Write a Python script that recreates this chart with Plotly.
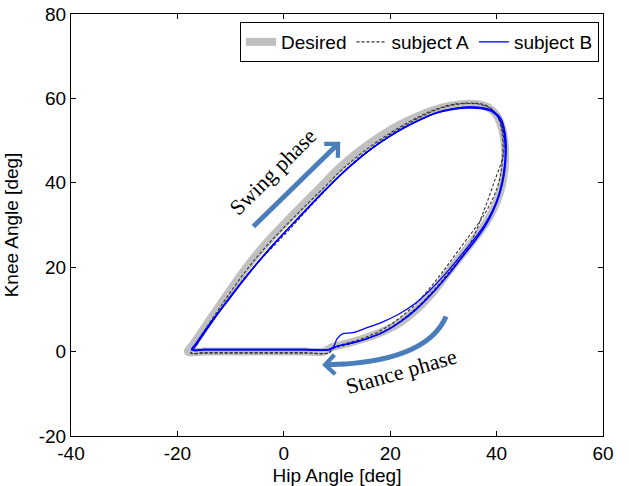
import plotly.graph_objects as go

# ---------------- data ----------------
desired_hip = [-18.0, -17.0, -15.5, -13.5, -11.0, -8.0, -5.0, -2.0, 1.0, 4.0, 7.0, 10.0, 13.0, 16.0, 19.0, 22.0, 25.0, 28.0, 31.0, 34.0, 36.5, 38.5, 40.0, 41.0, 41.5, 41.6, 41.3, 40.6, 39.5, 38.0, 36.0, 33.5, 31.0, 28.0, 25.0, 22.0, 19.0, 16.0, 13.0, 10.5, 9.0, 7.5, 4.0, 0.0, -5.0, -10.0, -15.0, -18.0]
desired_knee = [0.0, 1.8, 4.6, 8.3, 12.9, 18.3, 23.2, 27.5, 31.5, 35.3, 39.1, 43.0, 46.3, 49.2, 51.7, 53.9, 55.7, 57.2, 58.2, 58.7, 58.6, 57.8, 56.0, 53.0, 49.5, 45.5, 41.5, 37.5, 34.0, 30.5, 27.0, 23.0, 19.0, 14.0, 10.0, 7.0, 5.0, 3.5, 2.3, 1.5, 1.0, 0.0, 0.0, 0.0, 0.0, 0.0, 0.0, 0.0]

# subject A, two cycles
A1_hip = [-17.5, -16.5, -15.0, -13.0, -10.5, -7.5, -4.5, -1.5, 1.5, 4.5, 7.5, 10.5, 13.5, 16.5, 19.5, 22.5, 25.5, 28.5, 31.5, 34.5, 37.0, 39.0, 40.3, 41.0, 41.2, 41.0, 40.4, 39.3, 37.8, 35.8, 33.3, 30.8, 27.8, 24.8, 21.8, 18.8, 15.8, 12.8, 10.3, 9.0, 8.5, 4.0, 0.0, -5.0, -10.0, -15.0, -17.5]
A1_knee = [-0.3, 1.9, 4.8, 8.6, 13.2, 18.5, 23.2, 27.4, 31.3, 35.1, 38.8, 42.6, 45.9, 48.8, 51.4, 53.7, 55.7, 57.4, 58.5, 58.9, 58.7, 57.6, 55.3, 52.0, 48.0, 44.0, 40.0, 36.3, 32.7, 29.0, 24.8, 20.5, 15.6, 11.3, 8.0, 5.4, 3.6, 2.3, 1.4, 0.6, -0.3, -0.3, -0.3, -0.3, -0.3, -0.3, -0.3]
A2_hip = [-17.5, -16.3, -14.8, -12.8, -10.3, -7.3, -4.3, -1.3, 1.7, 4.7, 7.7, 10.7, 13.7, 16.7, 19.7, 22.7, 25.7, 28.7, 31.7, 34.7, 37.2, 39.2, 40.5, 41.2, 41.3, 39.5, 37.5, 35.6, 34.0, 31.5, 28.5, 25.5, 22.5, 19.5, 16.5, 13.5, 10.8, 9.2, 8.5, 4.0, 0.0, -5.0, -10.0, -15.0, -17.5]
A2_knee = [-0.3, 1.8, 4.6, 8.2, 12.6, 17.6, 21.9, 25.8, 29.8, 34.0, 38.0, 42.0, 45.5, 48.5, 51.2, 53.5, 55.6, 57.3, 58.4, 58.8, 58.5, 57.3, 55.0, 51.5, 47.0, 40.0, 33.0, 27.0, 23.5, 19.5, 15.0, 11.0, 7.8, 5.3, 3.5, 2.2, 1.3, 0.6, -0.3, -0.3, -0.3, -0.3, -0.3, -0.3, -0.3]

# subject B, three cycles
B1_hip = [-17.3, -16.6, -15.2, -13.2, -10.6, -7.6, -4.6, -1.6, 1.4, 4.4, 7.4, 10.4, 13.4, 16.4, 19.4, 22.4, 25.4, 28.4, 31.4, 34.4, 37.0, 39.2, 40.6, 41.3, 41.6, 41.6, 41.2, 40.5, 39.4, 37.9, 35.9, 33.4, 30.9, 27.9, 24.9, 21.9, 18.9, 15.9, 12.9, 10.4, 9.2, 8.5, 4.0, 0.0, -5.0, -10.0, -15.0, -17.3]
B1_knee = [0.5, 1.8, 4.3, 7.8, 12.1, 17.0, 21.6, 25.9, 29.9, 33.9, 37.8, 41.6, 45.0, 48.0, 50.6, 52.9, 54.8, 56.4, 57.3, 57.7, 57.6, 56.8, 55.0, 52.3, 48.8, 44.8, 40.8, 37.0, 33.4, 29.8, 26.2, 22.2, 18.2, 13.8, 10.0, 7.0, 4.7, 3.2, 2.1, 1.4, 0.9, 0.5, 0.5, 0.5, 0.5, 0.5, 0.5, 0.5]
B2_hip = [-17.3, -16.4, -15.0, -13.0, -10.4, -7.4, -4.4, -1.4, 1.6, 4.6, 7.6, 10.6, 13.6, 16.6, 19.6, 22.6, 25.6, 28.6, 31.6, 34.6, 37.2, 39.4, 40.8, 41.5, 41.8, 41.7, 41.3, 40.5, 39.3, 37.7, 35.6, 33.1, 30.5, 27.5, 24.5, 21.5, 18.5, 15.5, 13.0, 11.0, 10.0, 9.0, 4.0, 0.0, -5.0, -10.0, -15.0, -17.3]
B2_knee = [0.5, 2.0, 4.6, 8.1, 12.4, 17.3, 21.9, 26.2, 30.2, 34.2, 38.1, 41.8, 45.2, 48.2, 50.8, 53.1, 55.0, 56.6, 57.5, 57.9, 57.7, 56.9, 55.1, 52.5, 49.0, 45.0, 41.0, 37.2, 33.6, 30.0, 26.4, 22.5, 18.6, 14.6, 11.2, 8.8, 7.0, 5.6, 4.5, 4.2, 3.0, 0.6, 0.5, 0.5, 0.5, 0.5, 0.5, 0.5]
B3_hip = [-17.0, -16.2, -14.7, -12.7, -10.1, -7.1, -4.1, -1.1, 1.9, 4.9, 7.9, 10.9, 13.9, 16.9, 19.9, 22.9, 25.9, 28.9, 31.9, 34.9, 37.4, 39.5, 40.9, 41.5, 41.7, 41.5, 41.0, 40.2, 39.1, 37.6, 35.6, 33.2, 30.7, 27.7, 24.7, 21.7, 18.7, 15.7, 12.7, 10.2, 9.0, 8.3, 4.0, 0.0, -5.0, -10.0, -15.0, -17.0]
B3_knee = [0.3, 2.0, 4.8, 8.4, 12.7, 17.6, 22.2, 26.5, 30.5, 34.5, 38.4, 42.1, 45.4, 48.4, 51.0, 53.2, 55.1, 56.7, 57.6, 58.0, 57.8, 56.9, 55.0, 52.0, 48.4, 44.4, 40.2, 36.4, 32.9, 29.4, 25.8, 21.9, 17.9, 13.6, 9.9, 6.9, 4.6, 3.1, 2.0, 1.3, 0.8, 0.4, 0.4, 0.4, 0.4, 0.4, 0.4, 0.3]

x_ticks = [-40, -20, 0, 20, 40, 60]
x_tick_labels = ["-40", "-20", "0", "20", "40", "60"]
y_ticks = [-20, 0, 20, 40, 60, 80]
y_tick_labels = ["-20", "0", "20", "40", "60", "80"]

# annotation anchors (data units)
swing_tail = (-6.0, 29.3)
swing_head = (10.6, 49.7)
swing_text = (-2.0, 42.6)
stance_arc = "M 30.5,8.3 C 28.0,1.0 21.0,-2.2 11.0,-3.0"
stance_head_tail = (11.5, -2.95)
stance_head = (7.2, -3.2)
stance_text = (22.0, -4.6)

# ---------------- figure ----------------
def joined(*cycles):
    out = []
    for i, c in enumerate(cycles):
        if i:
            out.append(None)
        out.extend(c)
    return out

fig = go.Figure()
fig.add_trace(go.Scatter(x=desired_hip, y=desired_knee, mode="lines", name="Desired",
                         line=dict(color="#c0c0c0", width=8, shape="spline")))
fig.add_trace(go.Scatter(x=joined(A1_hip, A2_hip), y=joined(A1_knee, A2_knee), mode="lines",
                         name="subject A",
                         line=dict(color="#333333", width=1.1, dash="3px,2px", shape="spline")))
fig.add_trace(go.Scatter(x=joined(B1_hip, B2_hip, B3_hip), y=joined(B1_knee, B2_knee, B3_knee),
                         mode="lines", name="subject B",
                         line=dict(color="#0000ff", width=1.3, shape="spline")))

arrow_color = "#4a7ebb"
serif = "Liberation Serif, Times New Roman, serif"

fig.add_annotation(x=swing_head[0], y=swing_head[1], ax=swing_tail[0], ay=swing_tail[1],
                   xref="x", yref="y", axref="x", ayref="y", text="", showarrow=True,
                   arrowhead=4, arrowsize=0.75, arrowwidth=5, arrowcolor=arrow_color, standoff=0)
fig.add_annotation(x=swing_text[0], y=swing_text[1], xref="x", yref="y", text="Swing phase",
                   showarrow=False, textangle=-45, font=dict(family=serif, size=22, color="black"))

fig.add_shape(type="path", path=stance_arc, xref="x", yref="y",
              line=dict(color=arrow_color, width=5))
fig.add_annotation(x=stance_head[0], y=stance_head[1], ax=stance_head_tail[0], ay=stance_head_tail[1],
                   xref="x", yref="y", axref="x", ayref="y", text="", showarrow=True,
                   arrowhead=4, arrowsize=0.75, arrowwidth=5, arrowcolor=arrow_color, standoff=0)
fig.add_annotation(x=stance_text[0], y=stance_text[1], xref="x", yref="y", text="Stance phase",
                   showarrow=False, textangle=-16, font=dict(family=serif, size=22, color="black"))

axis_common = dict(showline=True, linecolor="black", linewidth=1, mirror="ticks",
                   ticks="inside", ticklen=5, tickcolor="black", showgrid=False,
                   zeroline=False, automargin=False, ticklabeloverflow="allow",
                   tickfont=dict(size=19, color="black"))
fig.update_xaxes(range=[-40, 60], tickvals=x_ticks, ticktext=x_tick_labels,
                 title=dict(text="Hip Angle [deg]", font=dict(size=19, color="black")),
                 **axis_common)
fig.update_yaxes(range=[-20, 80], tickvals=y_ticks, ticktext=y_tick_labels,
                 title=dict(text="Knee Angle [deg]", font=dict(size=19, color="black")),
                 **axis_common)

fig.update_layout(
    width=629, height=486,
    margin=dict(l=71, r=26, t=14, b=50, autoexpand=False),
    plot_bgcolor="white", paper_bgcolor="white",
    font=dict(family="Arial, Liberation Sans, sans-serif", size=19, color="black"),
    showlegend=True,
    legend=dict(orientation="h", x=0.9925, xanchor="right", y=0.981, yanchor="top",
                bgcolor="white", bordercolor="black", borderwidth=1,
                font=dict(size=19), itemwidth=30, tracegroupgap=0,
                itemsizing="trace"),
)

# remove the page's default 8px body margin so the figure fills the window exactly
fig.write_html("out.html", config={"displayModeBar": False},
               post_script="document.body.style.margin='0px';")
